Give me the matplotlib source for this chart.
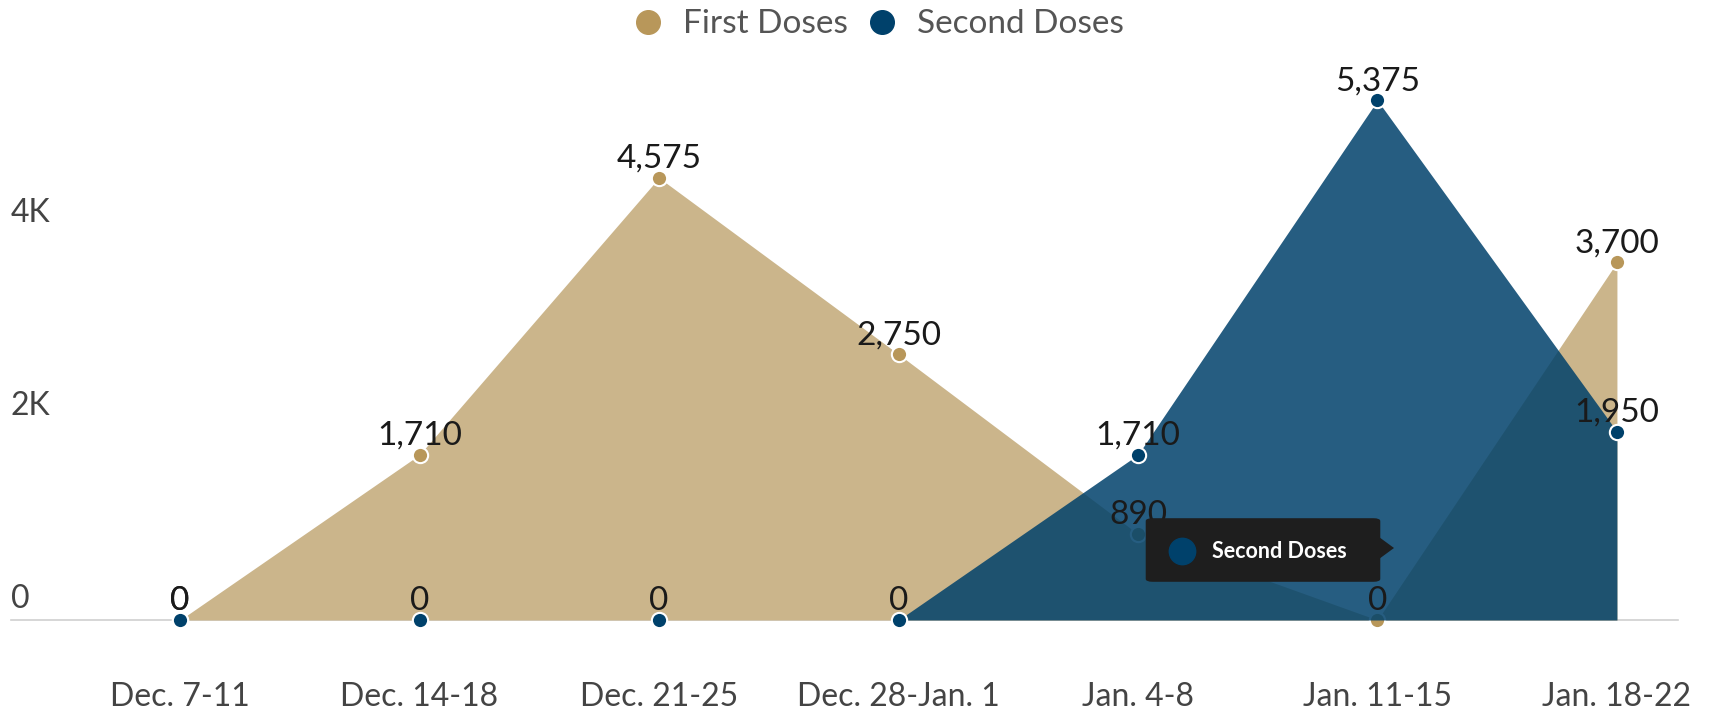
import numpy as np
import matplotlib
matplotlib.use("Agg")
import matplotlib.pyplot as plt
import matplotlib.transforms as mtransforms
from matplotlib.lines import Line2D
from matplotlib.patches import FancyBboxPatch, Polygon

plt.rcParams['font.family'] = ['Lato', 'DejaVu Sans']

# data
weeks = ["Dec. 7-11", "Dec. 14-18", "Dec. 21-25", "Dec. 28-Jan. 1",
         "Jan. 4-8", "Jan. 11-15", "Jan. 18-22"]
first_doses = [0, 1710, 4575, 2750, 890, 0, 3700]
second_doses = [0, 0, 0, 0, 1710, 5375, 1950]
yticks = [0, 2000, 4000]
ylabels = ["0", "2K", "4K"]

tan = "#b8975a"
tan_fill = "#cbb58b"
navy = "#00416b"

W, H = 1714, 719
fig = plt.figure(figsize=(W / 100, H / 100), dpi=100)
ax = fig.add_axes([11 / W, (H - 620) / H, (1678 - 11) / W, 580 / H])

x = np.arange(len(weeks))

# first doses
ax.fill_between(x, 0, first_doses, color=tan_fill, lw=0, zorder=1)
ax.plot(x, first_doses, ls="none", marker="o", ms=11, mfc=tan, mec="white",
        mew=1.5, zorder=2, clip_on=False)
for xi, v in zip(x, first_doses):
    ax.annotate(f"{v:,}", (xi, v), xytext=(0, 7), textcoords="offset points",
                ha="center", va="baseline", fontsize=24, color="#1a1a1a", zorder=7)

# second doses (drawn over)
ax.fill_between(x[3:], 0, second_doses[3:], color=navy, alpha=0.85, lw=0, zorder=4)
ax.plot(x, second_doses, ls="none", marker="o", ms=11, mfc=navy, mec="white",
        mew=1.5, zorder=5, clip_on=False)
for xi, v in zip(x, second_doses):
    ax.annotate(f"{v:,}", (xi, v), xytext=(0, 7), textcoords="offset points",
                ha="center", va="baseline", fontsize=24, color="#1a1a1a", zorder=7)

ax.set_xlim(-0.706, 6.255)
ax.set_ylim(0, 6000)
ax.set_xticks(x)
ax.set_xticklabels(weeks, fontsize=23, color="#444444")
ax.tick_params(axis="x", length=0, pad=45)
ax.set_yticks(yticks)
ax.set_yticklabels(ylabels, fontsize=23, color="#444444")
ax.tick_params(axis="y", length=0, pad=0)
shift = mtransforms.ScaledTranslation(0, 4 / 72, fig.dpi_scale_trans)
for lab in ax.get_yticklabels():
    lab.set_ha("left")
    lab.set_va("bottom")
    lab.set_transform(lab.get_transform() + shift)
for s in ["top", "right", "left"]:
    ax.spines[s].set_visible(False)
ax.spines["bottom"].set_color("#d0d0d0")
ax.spines["bottom"].set_linewidth(1.2)
ax.spines["bottom"].set_zorder(0)

# legend
handles = [Line2D([], [], ls="none", marker="o", ms=17, mfc=tan, mec=tan),
           Line2D([], [], ls="none", marker="o", ms=17, mfc=navy, mec=navy)]
fig.legend(handles, ["First Doses", "Second Doses"], loc="center",
           bbox_to_anchor=(0.512, 0.966), ncol=2, frameon=False,
           fontsize=24, labelcolor="#555555", handletextpad=0.55,
           columnspacing=0.5, handlelength=1.0)

# tooltip box
def fx(px):
    return px / W

def fy(py):
    return 1 - py / H

box = FancyBboxPatch((fx(1150), fy(580)), fx(1376) - fx(1150), fy(520) - fy(580),
                     boxstyle="round,pad=0.0025,rounding_size=0.004",
                     transform=fig.transFigure, fc="#1e1e1e", ec="none", zorder=10)
fig.patches.append(box)
arrow = Polygon([(fx(1379), fy(537)), (fx(1394), fy(548)), (fx(1379), fy(559))],
                closed=True, transform=fig.transFigure, fc="#1e1e1e", ec="none", zorder=10)
fig.patches.append(arrow)
fig.add_artist(Line2D([fx(1182)], [fy(551)], ls="none", marker="o", ms=19,
                      mfc=navy, mec=navy, transform=fig.transFigure, zorder=11))
fig.text(fx(1212), fy(551), "Second Doses", color="white", fontsize=15.5,
         fontweight="bold", ha="left", va="center", zorder=11)

fig.savefig("out.png", dpi=100)
